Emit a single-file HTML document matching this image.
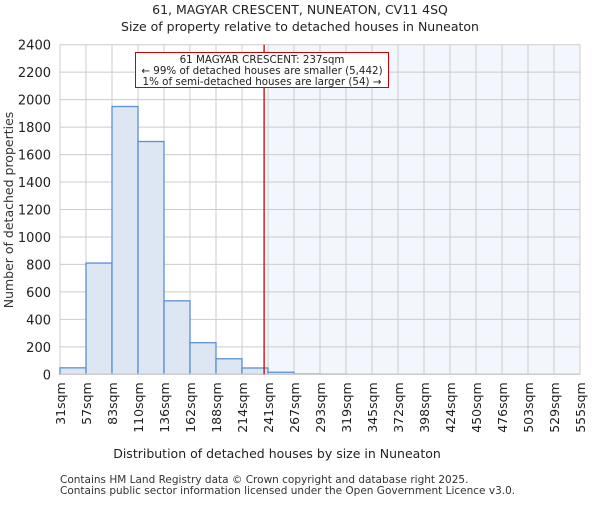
<!DOCTYPE html>
<html><head><meta charset="utf-8"><style>
body{margin:0;background:#fff;font-family:"Liberation Sans","DejaVu Sans",sans-serif;}
text{font-family:"DejaVu Sans","Liberation Sans",sans-serif;}
</style></head><body>
<svg id="c" width="600" height="500" xmlns="http://www.w3.org/2000/svg">
<text x="300" y="14" text-anchor="middle" font-size="12.5" fill="#222">61, MAGYAR CRESCENT, NUNEATON, CV11 4SQ</text>
<text x="300" y="31" text-anchor="middle" font-size="12.5" fill="#222">Size of property relative to detached houses in Nuneaton</text>
<g id="plot"></g>
<text x="277" y="458" text-anchor="middle" font-size="12.5" fill="#222">Distribution of detached houses by size in Nuneaton</text>
<text transform="translate(13,210) rotate(-90)" text-anchor="middle" font-size="12.5" fill="#333">Number of detached properties</text>
<text x="60" y="483" font-size="10.5" fill="#333">Contains HM Land Registry data © Crown copyright and database right 2025.</text>
<text x="60" y="494" font-size="10.5" fill="#333">Contains public sector information licensed under the Open Government Licence v3.0.</text>
</svg>
<script>
const categories=["31sqm","57sqm","83sqm","110sqm","136sqm","162sqm","188sqm","214sqm","241sqm","267sqm","293sqm","319sqm","345sqm","372sqm","398sqm","424sqm","450sqm","476sqm","503sqm","529sqm","555sqm"];
const counts=[47,810,1950,1695,535,230,113,46,15,3,2,0,0,0,0,0,0,0,0,0];
const yTicks=[0,200,400,600,800,1000,1200,1400,1600,1800,2000,2200,2400];
const markerBin=7.85;
const shadeStartBin=8;
const NS="http://www.w3.org/2000/svg";
const L=60,R=580,T=44.7,B=374.3,YMAX=2400;
const nb=counts.length;
const x=i=>L+(R-L)*i/nb;
const y=v=>B-(B-T)*v/YMAX;
const g=document.getElementById('plot');
function mk(tag,a){const e=document.createElementNS(NS,tag);for(const k in a)e.setAttribute(k,a[k]);g.appendChild(e);return e;}
let sh=mk('rect',{x:x(shadeStartBin),y:T,width:R-x(shadeStartBin),height:B-T,fill:'#f3f6fd'});


yTicks.forEach(t=>{
 let l=mk('line',{x1:L,x2:R,y1:y(t),y2:y(t),stroke:'#cccccc','stroke-width':1});
 
 
 let tx=mk('text',{x:L-9,y:y(t)+5,'text-anchor':'end','font-size':'13',fill:'#222'});
 tx.textContent=t;
 
 
});
categories.forEach((c,i)=>{
 let l=mk('line',{x1:x(i),x2:x(i),y1:T,y2:B,stroke:'#cccccc','stroke-width':1});
 
 
 let tx=mk('text',{transform:`translate(${x(i)+5},${B+8}) rotate(-90)`,'text-anchor':'end','font-size':'12.5',fill:'#222'});
 tx.textContent=c;
 
 
});
counts.forEach((v,i)=>{
 if(v<=0)return;
 let r=mk('rect',{x:x(i),y:y(v),width:x(i+1)-x(i),height:B-y(v),fill:'#dde7f4',stroke:'#5b8fd6','stroke-width':1.3});
 
 
});
let ax=mk('line',{x1:L,x2:R,y1:B,y2:B,stroke:'#cccccc','stroke-width':1.5});


let ml=mk('line',{x1:x(markerBin),x2:x(markerBin),y1:T,y2:B,stroke:'#cc0000','stroke-width':1.3});


let box=mk('rect',{x:135.5,y:52.5,width:253,height:35,fill:'#fff',stroke:'#cc0000','stroke-width':1});


["61 MAGYAR CRESCENT: 237sqm","← 99% of detached houses are smaller (5,442)","1% of semi-detached houses are larger (54) →"].forEach((s,i)=>{
 let t=mk('text',{x:262,y:63+i*11,'text-anchor':'middle','font-size':'10.3',fill:'#222'});
 t.textContent=s;
 
 
});
</script>
</body></html>
